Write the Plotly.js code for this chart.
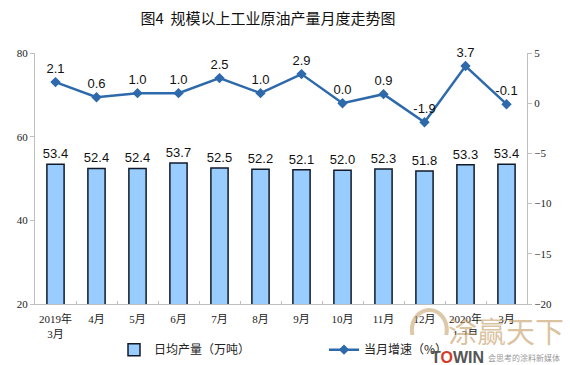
<!DOCTYPE html>
<html>
<head>
<meta charset="utf-8">
<script src="https://cdn.plot.ly/plotly-3.0.1.min.js"></script>
<style>html,body{margin:0;padding:0;background:#fff;}#chart{width:570px;height:365px;}</style>
</head>
<body>
<div id="chart"></div>
<script>
const categories = ["2019年<br>3月","4月","5月","6月","7月","8月","9月","10月","11月","12月","2020年<br>1-2月","3月"];
const dailyOutput = [53.4, 52.4, 52.4, 53.7, 52.5, 52.2, 52.1, 52.0, 52.3, 51.8, 53.3, 53.4];
const monthlyGrowth = [2.1, 0.6, 1.0, 1.0, 2.5, 1.0, 2.9, 0.0, 0.9, -1.9, 3.7, -0.1];
const leftTicks = [20, 40, 60, 80];
const rightTicks = [-20, -15, -10, -5, 0, 5];

const cjk = '"Noto Sans CJK SC", "Liberation Sans", sans-serif';
const serif = '"Liberation Serif", "Noto Sans CJK SC", serif';

const traces = [
  {
    type: 'bar', name: '日均产量（万吨）', x: categories, y: dailyOutput,
    marker: {color: '#99CCFF', line: {color: '#111a2a', width: 1.5}},
    text: dailyOutput.map(v => v.toFixed(1)), textposition: 'outside',
    textfont: {family: '"Liberation Sans", Arial, sans-serif', size: 13, color: '#111'},
    constraintext: 'none', cliponaxis: false, width: 0.42
  },
  {
    type: 'scatter', mode: 'lines+markers+text', name: '当月增速（%）', x: categories, y: monthlyGrowth,
    yaxis: 'y2',
    line: {color: '#2E6AAB', width: 2.5},
    marker: {symbol: 'diamond', size: 8, color: '#2E6AAB'},
    text: monthlyGrowth.map(v => v.toFixed(1)), textposition: 'top center',
    textfont: {family: '"Liberation Sans", Arial, sans-serif', size: 13, color: '#111'},
    cliponaxis: false
  }
];

const layout = {
  width: 570, height: 365,
  margin: {l: 35, r: 43, t: 53, b: 61, autoexpand: false},
  paper_bgcolor: '#fff', plot_bgcolor: '#fff',
  showlegend: true,
  title: {text: '图4  规模以上工业原油产量月度走势图', x: 0.47, xanchor: 'center', y: 0.95, yanchor: 'middle',
          font: {family: cjk, size: 15, color: '#111'}},
  xaxis: {
    type: 'category', range: [-0.5, 11.5], showline: true, linecolor: '#BFBFBF', linewidth: 1, automargin: false,
    ticks: 'inside', tickson: 'boundaries', ticklen: 3, tickcolor: '#BFBFBF', tickangle: 0,
    ticklabelstandoff: 5,
    tickfont: {family: serif, size: 11, color: '#222'}, showgrid: false, zeroline: false
  },
  yaxis: {
    range: [20, 80], tickvals: leftTicks, showline: true, linecolor: '#BFBFBF', linewidth: 1,
    ticks: 'outside', ticklen: 4, tickcolor: '#BFBFBF', showgrid: false, zeroline: false, automargin: false,
    tickfont: {family: serif, size: 11, color: '#222'}
  },
  yaxis2: {
    range: [-20, 5], tickvals: rightTicks, overlaying: 'y', side: 'right', showline: true, automargin: false,
    linecolor: '#BFBFBF', linewidth: 1, ticks: 'outside', ticklen: 4, tickcolor: '#BFBFBF',
    showgrid: false, zeroline: false, tickfont: {family: serif, size: 11, color: '#222'}
  },
  bargap: 0.58,
  legend: {orientation: 'h', xref: 'container', yref: 'container', x: 0.2, xanchor: 'left', y: 0.042, yanchor: 'middle',
           font: {family: cjk, size: 12, color: '#222'}, traceorder: 'normal', itemwidth: 30,
           entrywidth: 165},
  annotations: [
    {text: '涂赢天下', xref: 'paper', yref: 'paper', x: 1.08, y: -0.104, xanchor: 'right', yanchor: 'middle',
     showarrow: false, font: {family: cjk, size: 29, color: 'rgba(195,155,100,0.6)'}},
    {text: 'T<span style="color:#d23c2c">O</span>WIN', xref: 'paper', yref: 'paper', x: 0.80, y: -0.215, xanchor: 'left', yanchor: 'middle',
     showarrow: false, font: {family: '"Liberation Sans", Arial, sans-serif', size: 16, color: '#555', weight: 'bold'}},
    {text: '会思考的涂料新媒体', xref: 'paper', yref: 'paper', x: 1.071, y: -0.215, xanchor: 'right', yanchor: 'middle',
     showarrow: false, font: {family: cjk, size: 8, color: '#999'}}
  ],
  shapes: [
    {type: 'circle', xref: 'paper', yref: 'paper', x0: 0.766, x1: 0.837, y0: -0.183, y1: -0.024,
     line: {color: 'rgba(195,155,100,0.55)', width: 4}}
  ]
};

Plotly.newPlot('chart', traces, layout, {displayModeBar: false, staticPlot: true});
</script>
</body>
</html>
